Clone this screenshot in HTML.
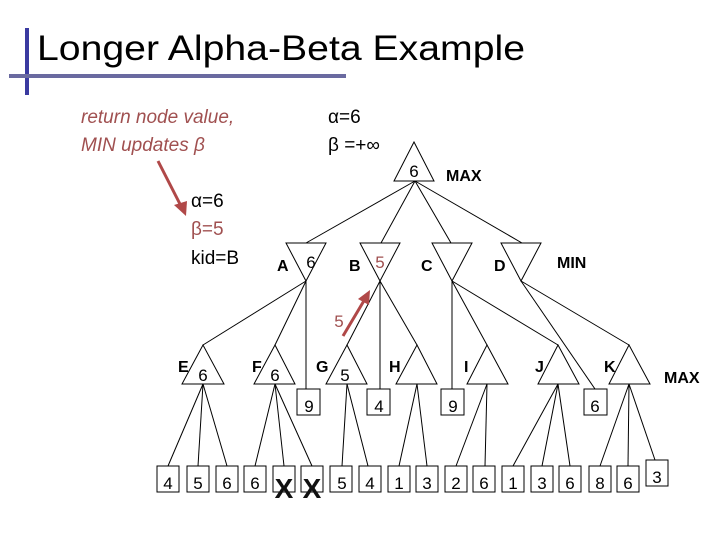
<!DOCTYPE html>
<html><head><meta charset="utf-8"><style>
html,body{margin:0;padding:0;background:#fff;}
svg{display:block;}
text{font-family:"Liberation Sans","DejaVu Sans",sans-serif;}
</style></head><body>
<svg width="720" height="540" viewBox="0 0 720 540" xmlns="http://www.w3.org/2000/svg">
<rect x="0" y="0" width="720" height="540" fill="#fff"/>
<!-- title decoration -->
<rect x="25" y="28" width="4" height="67" fill="#3a3aa0"/>
<rect x="9" y="74" width="337" height="4" fill="#6a6aa0"/>
<text x="37" y="60" font-size="35" fill="#000" font-family="DejaVu Sans, Liberation Sans, sans-serif" textLength="488" lengthAdjust="spacingAndGlyphs">Longer Alpha-Beta Example</text>
<!-- red note -->
<g fill="#a05050" font-style="italic" font-size="19">
<text x="81" y="123">return node value,</text>
<text x="81" y="151">MIN updates β</text>
</g>
<line x1="158" y1="161" x2="182" y2="208" stroke="#b04848" stroke-width="3"/>
<polygon points="186,216 174,205 187,201" fill="#b04848"/>
<!-- alpha beta text -->
<g font-size="19" fill="#000">
<text x="328" y="123">α=6</text>
<text x="328" y="151">β =+∞</text>
<text x="191" y="207">α=6</text>
<text x="191" y="235" fill="#a05050">β=5</text>
<text x="191" y="264">kid=B</text>
</g>
<g stroke="#000" stroke-width="1" fill="none">
<!-- root -->
<polygon points="414,142 394,181 434,181" fill="#fff"/>
<line x1="415" y1="181" x2="306" y2="243"/>
<line x1="415" y1="181" x2="381" y2="243"/>
<line x1="415" y1="181" x2="451" y2="243"/>
<line x1="415" y1="181" x2="522" y2="243"/>
<!-- MIN -->
<polygon points="286,243 326,243 306,281"/>
<polygon points="360,243 400,243 380,281"/>
<polygon points="432,243 472,243 452,281"/>
<polygon points="501,243 541,243 521,281"/>
<!-- A children -->
<line x1="306" y1="281" x2="203" y2="345"/>
<line x1="306" y1="281" x2="275" y2="345"/>
<line x1="306" y1="281" x2="306" y2="389"/>
<!-- B children -->
<line x1="380" y1="281" x2="347" y2="345"/>
<line x1="380" y1="281" x2="380" y2="389"/>
<line x1="380" y1="281" x2="417" y2="345"/>
<!-- C children -->
<line x1="452" y1="281" x2="452" y2="389"/>
<line x1="452" y1="281" x2="487" y2="345"/>
<line x1="452" y1="281" x2="558" y2="345"/>
<!-- D children -->
<line x1="521" y1="281" x2="595" y2="389"/>
<line x1="521" y1="281" x2="629" y2="345"/>
<!-- MAX nodes -->
<polygon points="203,345 182,384 224,384"/>
<polygon points="275,345 254,384 295,384"/>
<polygon points="347,345 326,384 367,384"/>
<polygon points="417,345 396,384 437,384"/>
<polygon points="487,345 467,384 508,384"/>
<polygon points="558,345 538,384 579,384"/>
<polygon points="629,345 609,384 650,384"/>
<!-- mid boxes -->
<rect x="297" y="389" width="23" height="26"/>
<rect x="367" y="389" width="23" height="26"/>
<rect x="441" y="389" width="23" height="26"/>
<rect x="584" y="389" width="23" height="26"/>
<!-- leaf edges -->
<line x1="203" y1="384" x2="168" y2="466"/>
<line x1="203" y1="384" x2="198" y2="466"/>
<line x1="203" y1="384" x2="227" y2="466"/>
<line x1="275" y1="384" x2="255" y2="466"/>
<line x1="275" y1="384" x2="284" y2="466"/>
<line x1="275" y1="384" x2="312" y2="466"/>
<line x1="347" y1="384" x2="342" y2="466"/>
<line x1="347" y1="384" x2="368" y2="466"/>
<line x1="417" y1="384" x2="399" y2="466"/>
<line x1="417" y1="384" x2="427" y2="466"/>
<line x1="487" y1="384" x2="456" y2="466"/>
<line x1="487" y1="384" x2="485" y2="466"/>
<line x1="558" y1="384" x2="513" y2="466"/>
<line x1="558" y1="384" x2="542" y2="466"/>
<line x1="558" y1="384" x2="570" y2="466"/>
<line x1="629" y1="384" x2="600" y2="466"/>
<line x1="629" y1="384" x2="628" y2="466"/>
<line x1="629" y1="384" x2="655" y2="460"/>
<!-- leaves -->
<rect x="157" y="466" width="22" height="26"/>
<rect x="187" y="466" width="22" height="26"/>
<rect x="216" y="466" width="22" height="26"/>
<rect x="244" y="466" width="22" height="26"/>
<rect x="273" y="466" width="22" height="26"/>
<rect x="301" y="466" width="22" height="26"/>
<rect x="330" y="466" width="22" height="26"/>
<rect x="359" y="466" width="22" height="26"/>
<rect x="388" y="466" width="22" height="26"/>
<rect x="416" y="466" width="22" height="26"/>
<rect x="445" y="466" width="22" height="26"/>
<rect x="473" y="466" width="22" height="26"/>
<rect x="502" y="466" width="22" height="26"/>
<rect x="531" y="466" width="22" height="26"/>
<rect x="559" y="466" width="22" height="26"/>
<rect x="589" y="466" width="22" height="26"/>
<rect x="617" y="466" width="22" height="26"/>
<rect x="646" y="460" width="22" height="26"/>
</g>
<!-- node values -->
<g font-size="17" fill="#000" text-anchor="middle">
<text x="414" y="177">6</text>
<text x="311" y="268">6</text>
<text x="380" y="268" fill="#a05050">5</text>
<text x="203" y="381">6</text>
<text x="275" y="381">6</text>
<text x="345" y="381">5</text>
<text x="309" y="412">9</text>
<text x="379" y="412">4</text>
<text x="453" y="412">9</text>
<text x="595" y="412">6</text>
<text x="339" y="327" fill="#a05050">5</text>
</g>
<g font-size="17" fill="#000" text-anchor="middle">
<text x="168" y="489">4</text><text x="198" y="489">5</text><text x="227" y="489">6</text><text x="255" y="489">6</text>
<text x="342" y="489">5</text><text x="370" y="489">4</text><text x="399" y="489">1</text><text x="427" y="489">3</text>
<text x="456" y="489">2</text><text x="484" y="489">6</text><text x="513" y="489">1</text><text x="542" y="489">3</text>
<text x="570" y="489">6</text><text x="600" y="489">8</text><text x="628" y="489">6</text><text x="657" y="483">3</text>
</g>
<g font-size="28" font-weight="bold" fill="#111" text-anchor="middle">
<text x="284" y="498">X</text><text x="312" y="498">X</text>
</g>
<!-- labels -->
<g font-size="16" font-weight="bold" fill="#000">
<text x="446" y="181">MAX</text>
<text x="557" y="268">MIN</text>
<text x="664" y="383">MAX</text>
<text x="277" y="271">A</text>
<text x="349" y="271">B</text>
<text x="421" y="271">C</text>
<text x="494" y="271">D</text>
<text x="178" y="372">E</text>
<text x="252" y="372">F</text>
<text x="316" y="372">G</text>
<text x="389" y="372">H</text>
<text x="464" y="372">I</text>
<text x="535" y="372">J</text>
<text x="604" y="372">K</text>
</g>
<!-- red arrow B -->
<line x1="343" y1="336" x2="365" y2="299" stroke="#b04848" stroke-width="3"/>
<polygon points="370,290 358,299 369,305" fill="#b04848"/>
</svg>
</body></html>
